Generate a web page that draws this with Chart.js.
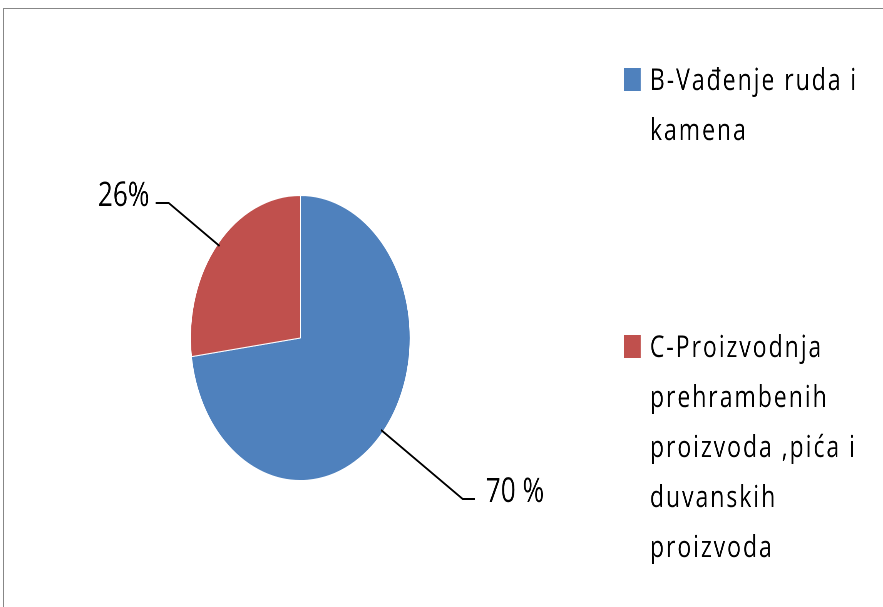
<!DOCTYPE html>
<html>
<head>
<meta charset="utf-8">
<script src="https://cdn.jsdelivr.net/npm/chart.js@4/dist/chart.umd.min.js"></script>
<style>
  html, body { margin: 0; padding: 0; background: #fff; overflow: hidden; }
  #frame {
    position: absolute; left: 3px; top: 8px; width: 900px; height: 620px;
    border-top: 1px solid #878787; border-left: 1px solid #878787;
  }
  /* the original picture is squeezed horizontally */
  #wrap {
    position: absolute; left: 0; top: 0; width: 1147px; height: 607px;
    transform: scaleX(0.77); transform-origin: 0 0;
  }
</style>
</head>
<body>
<div id="frame"></div>
<div id="wrap"><canvas id="chart"></canvas></div>
<script>
// Data
const categories = [
  ['B-Vađenje ruda i', 'kamena'],
  ['C-Proizvodnja', 'prehrambenih', 'proizvoda ,pića i', 'duvanskih', 'proizvoda']
];
const values = [70, 26];
const valueLabels = ['70 %', '26%'];
const colors = ['#4F81BD', '#C0504D'];

// leader line offsets from slice edge (unscaled px) and text placement
const leaders = [
  { dx: 106, dy: 69, run: 16, gap: 14 },
  { dx: -66, dy: -43, run: -17, gap: -8 }
];
const legendBaselines = [90, 357];

const FONT = '"Open Sans", sans-serif';

const pieLabels = {
  id: 'pieLabels',
  afterDatasetsDraw(chart) {
    const ctx = chart.ctx;
    const meta = chart.getDatasetMeta(0);
    ctx.save();
    meta.data.forEach((arc, i) => {
      const p = arc.getProps(['x', 'y', 'startAngle', 'endAngle', 'outerRadius'], true);
      const mid = (p.startAngle + p.endAngle) / 2;
      const sx = p.x + Math.cos(mid) * (p.outerRadius - 3);
      const sy = p.y + Math.sin(mid) * (p.outerRadius - 3);
      const l = leaders[i];
      const ex = sx + l.dx, ey = sy + l.dy;
      ctx.strokeStyle = '#000';
      ctx.lineWidth = 2;
      ctx.beginPath();
      ctx.moveTo(sx, sy);
      ctx.lineTo(ex, ey);
      ctx.lineTo(ex + l.run, ey);
      ctx.stroke();
      ctx.fillStyle = '#000';
      ctx.font = '34px ' + FONT;
      ctx.textBaseline = 'alphabetic';
      ctx.textAlign = l.run > 0 ? 'left' : 'right';
      ctx.fillText(valueLabels[i], ex + l.run + l.gap, ey + 3);
    });

    // legend
    const lx = 810, tx = 844, lineH = 50;
    ctx.font = '30px ' + FONT;
    ctx.letterSpacing = '2.5px';
    ctx.textAlign = 'left';
    categories.forEach((lines, i) => {
      const base = legendBaselines[i];
      ctx.fillStyle = colors[i];
      ctx.fillRect(lx, base - 22, 22, 23);
      ctx.fillStyle = '#000';
      lines.forEach((t, j) => ctx.fillText(t, tx, base + j * lineH));
    });
    ctx.restore();
  }
};

new Chart(document.getElementById('chart'), {
  type: 'pie',
  data: {
    labels: categories,
    datasets: [{
      data: values,
      backgroundColor: colors,
      borderColor: '#ffffff',
      borderWidth: 1
    }]
  },
  options: {
    responsive: true,
    maintainAspectRatio: false,
    animation: false,
    devicePixelRatio: 2,
    layout: { padding: { left: 247, right: 614, top: 195, bottom: 126 } },
    plugins: {
      legend: { display: false },
      tooltip: { enabled: false }
    }
  },
  plugins: [pieLabels]
});
</script>
</body>
</html>
